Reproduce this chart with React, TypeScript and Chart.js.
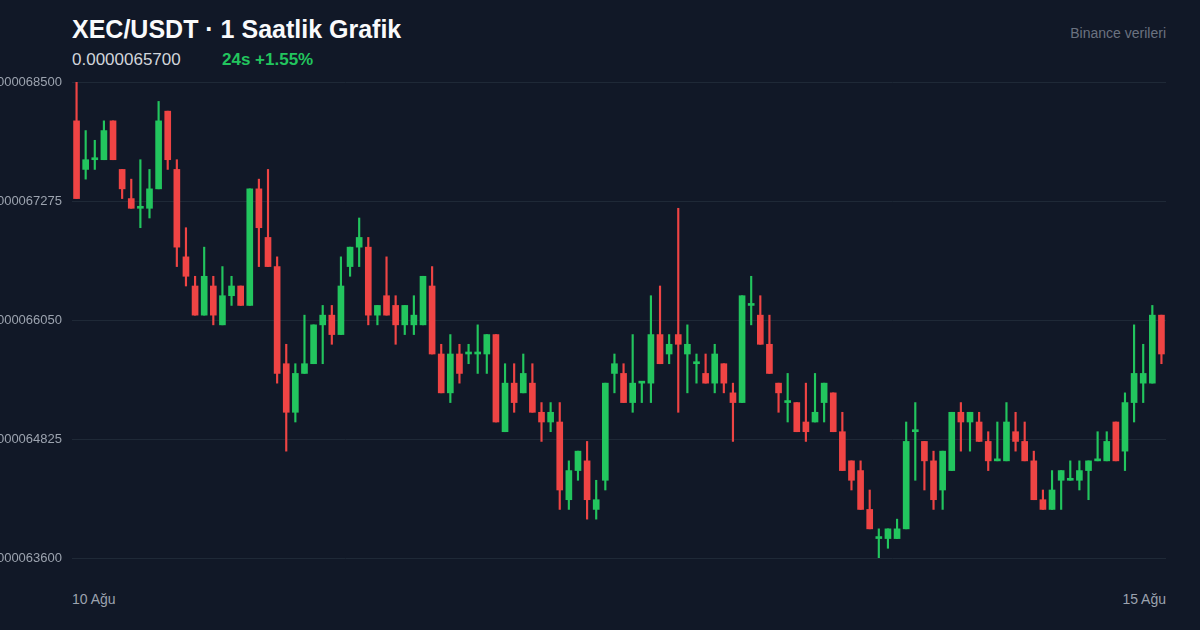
import { useEffect, useRef } from "react";
import { Chart, registerables } from "chart.js";

Chart.register(...registerables);

const FONT = '"Liberation Sans", Arial, sans-serif';

// XEC/USDT hourly candles, prices in units of 0.00000001 USDT
const opens = [
  681, 676, 677, 677, 681, 676, 673, 672, 672, 674, 682, 676, 667, 664, 661, 664, 660, 663, 664, 662,
  674, 669, 666, 656, 651, 655, 656, 660, 661, 659, 666, 668, 668, 661, 663, 662, 660, 660, 660, 664,
  657, 653, 657, 657, 657, 657, 659, 649, 654, 653, 654, 651, 650, 650, 642, 645, 646, 641, 644, 655,
  655, 652, 654, 654, 659, 657, 659, 657, 656, 655, 654, 656, 653, 652, 662, 661, 658, 654, 652, 652,
  650, 650, 652, 653, 649, 646, 645, 641, 638, 638, 638, 639, 649, 648, 646, 643, 645, 651, 650, 650,
  648, 646, 646, 649, 648, 646, 642, 641, 644, 644, 644, 645, 646, 646, 650, 647, 652, 654, 654, 661,
];
const highs = [
  685, 680, 679, 681, 681, 676, 675, 677, 676, 683, 682, 677, 670, 665, 668, 665, 666, 665, 664, 674,
  675, 676, 667, 658, 656, 661, 660, 662, 662, 667, 668, 671, 669, 662, 667, 663, 662, 663, 665, 666,
  658, 659, 658, 658, 660, 659, 659, 656, 656, 657, 656, 652, 652, 652, 646, 647, 648, 644, 654, 657,
  656, 659, 654, 663, 664, 659, 672, 660, 657, 657, 658, 656, 654, 663, 665, 663, 661, 654, 655, 652,
  654, 655, 654, 653, 651, 646, 646, 643, 639, 639, 640, 650, 652, 648, 647, 647, 651, 652, 651, 651,
  649, 650, 652, 651, 650, 647, 643, 645, 645, 646, 646, 646, 649, 649, 650, 653, 660, 658, 662, 661,
];
const lows = [
  673, 675, 676, 677, 677, 673, 672, 670, 671, 674, 676, 666, 664, 661, 661, 660, 660, 662, 662, 662,
  666, 666, 654, 647, 650, 655, 656, 656, 658, 659, 665, 666, 660, 660, 661, 658, 659, 659, 660, 657,
  653, 652, 654, 656, 655, 655, 650, 649, 651, 653, 651, 648, 649, 641, 641, 644, 640, 640, 643, 653,
  652, 651, 652, 652, 656, 656, 651, 653, 654, 654, 653, 653, 648, 652, 660, 658, 655, 651, 650, 649,
  648, 650, 650, 649, 645, 643, 641, 639, 636, 637, 638, 639, 644, 643, 641, 641, 645, 647, 647, 648,
  645, 646, 646, 647, 646, 642, 641, 641, 641, 644, 643, 642, 646, 646, 646, 645, 650, 652, 654, 656,
];
const closes = [
  673, 677, 677, 680, 677, 674, 672, 672, 674, 681, 677, 668, 665, 661, 665, 661, 663, 664, 662, 674,
  670, 666, 655, 651, 655, 656, 660, 661, 659, 664, 668, 669, 661, 662, 661, 660, 662, 661, 665, 657,
  653, 657, 655, 657, 657, 659, 650, 654, 652, 655, 651, 650, 651, 643, 645, 647, 642, 642, 654, 656,
  652, 654, 654, 659, 656, 658, 658, 658, 656, 654, 657, 654, 652, 663, 662, 658, 655, 653, 652, 649,
  649, 651, 654, 649, 645, 644, 641, 639, 638, 639, 639, 648, 649, 646, 642, 647, 651, 650, 651, 648,
  646, 646, 650, 648, 646, 642, 641, 643, 645, 644, 645, 646, 646, 648, 646, 652, 655, 655, 661, 657,
];

const hours = opens.map((_, i) => `${10 + Math.floor(i / 24)} Ağu ${String(i % 24).padStart(2, "0")}:00`);
const yTicks = [636, 648.25, 660.5, 672.75, 685];
const dateLabels = ["10 Ağu", "15 Ağu"];
const lastPrice = "0.0000065700";
const change24h = "24s +1.55%";

const UP = "#22c55e";
const DOWN = "#ef4444";

export default function App() {
  const canvasRef = useRef<HTMLCanvasElement>(null);
  const chartRef = useRef<Chart | null>(null);

  useEffect(() => {
    if (!canvasRef.current) return;
    if (chartRef.current) chartRef.current.destroy();

    Chart.defaults.font.family = FONT;
    const colors = closes.map((c, i) => (c >= opens[i] ? UP : DOWN));

    chartRef.current = new Chart(canvasRef.current, {
      type: "bar",
      data: {
        labels: hours,
        datasets: [
          {
            label: "body",
            data: opens.map((o, i) => [o, closes[i]]) as any,
            backgroundColor: colors,
            barThickness: 6,
            minBarLength: 2,
            grouped: false,
            order: 0,
          },
          {
            label: "wick",
            data: lows.map((l, i) => [l, highs[i]]) as any,
            backgroundColor: colors,
            barThickness: 1.5,
            grouped: false,
            order: 1,
          },
        ],
      },
      options: {
        animation: false,
        responsive: true,
        maintainAspectRatio: false,
        layout: { padding: { top: 10, bottom: 10, left: 0, right: 0 } },
        plugins: {
          legend: { display: false },
          tooltip: { enabled: false },
        },
        scales: {
          x: {
            display: false,
            offset: true,
            grid: { display: false },
          },
          y: {
            min: 636,
            max: 685,
            afterFit: (s: any) => {
              // fixed axis width; labels run off the left edge
              s.width = 72;
              s.paddingTop = 0;
              s.paddingBottom = 0;
            },
            afterBuildTicks: (s: any) => {
              s.ticks = yTicks.map((v) => ({ value: v }));
            },
            grid: { color: "#1f2937", drawTicks: false },
            border: { display: false },
            ticks: {
              padding: 10,
              color: "#9ca3af",
              font: { size: 13, family: FONT },
              callback: (v: any) => (Number(v) * 1e-8).toFixed(10),
            },
          },
        },
      },
    });

    return () => {
      if (chartRef.current) {
        chartRef.current.destroy();
        chartRef.current = null;
      }
    };
  }, []);

  return (
    <div
      style={{
        position: "fixed",
        left: 0,
        top: 0,
        width: 1200,
        height: 630,
        background: "#111827",
        fontFamily: FONT,
        overflow: "hidden",
      }}
    >
      <div style={{ position: "absolute", left: 72, top: 16.5, fontSize: 25, fontWeight: 700, lineHeight: 1, color: "#f9fafb", whiteSpace: "nowrap" }}>
        XEC/USDT · 1 Saatlik Grafik
      </div>
      <div style={{ position: "absolute", right: 34, top: 25.5, fontSize: 14, lineHeight: 1, color: "#6b7280", whiteSpace: "nowrap" }}>
        Binance verileri
      </div>
      <div style={{ position: "absolute", left: 72, top: 51, fontSize: 17, lineHeight: 1, color: "#d1d5db" }}>{lastPrice}</div>
      <div style={{ position: "absolute", left: 222, top: 51, fontSize: 17, lineHeight: 1, fontWeight: 700, color: UP }}>{change24h}</div>
      <div style={{ position: "absolute", left: 0, top: 72, width: 1166, height: 496 }}>
        <canvas ref={canvasRef}></canvas>
      </div>
      <div
        style={{
          position: "absolute",
          left: 72,
          right: 34,
          top: 592,
          display: "flex",
          justifyContent: "space-between",
          fontSize: 14,
          lineHeight: 1,
          color: "#9ca3af",
        }}
      >
        {dateLabels.map((d) => (
          <span key={d}>{d}</span>
        ))}
      </div>
    </div>
  );
}
